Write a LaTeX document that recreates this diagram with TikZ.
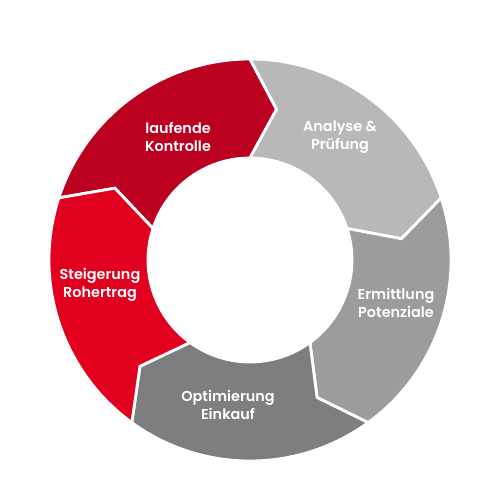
\documentclass[tikz,border=0pt]{standalone}
\usepackage{fontspec}
\setmainfont{Poppins}[BoldFont={Poppins SemiBold}]
\usepackage{xcolor}
\definecolor{CycleDarkRed}{HTML}{BC0020}
\definecolor{CycleRed}{HTML}{E2001F}
\definecolor{CycleLightGray}{HTML}{B8B8B8}
\definecolor{CycleGray}{HTML}{9B9C9E}
\definecolor{CycleDarkGray}{HTML}{7D7E80}
\tikzset{
    segment/.style={
        fill=#1,
        draw=white,
        line width=1.6pt,
        line join=miter
    },
    segment/.default=CycleGray,
    steptext/.style={
        text=white,
        font=\fontsize{8.2}{10.2}\selectfont\bfseries,
        align=center,
        inner sep=0pt
    }
}

\begin{document}
\begin{tikzpicture}
        \useasboundingbox (-5,-4.8) rectangle (5,5.2);

        % Ring segments (clockwise, each 72 degrees)
        \path[segment=CycleDarkRed] (162:4.02) arc[start angle=162, end angle=90, radius=4.02]
            -- (80:3.06) -- (90:2.04) arc[start angle=90, end angle=162, radius=2.04]
            -- (152:3.06) -- cycle;
        \path[segment=CycleLightGray] (90:4.02) arc[start angle=90, end angle=18, radius=4.02]
            -- (8:3.06) -- (18:2.04) arc[start angle=18, end angle=90, radius=2.04]
            -- (80:3.06) -- cycle;
        \path[segment=CycleGray] (18:4.02) arc[start angle=18, end angle=-54, radius=4.02]
            -- (-64:3.06) -- (-54:2.04) arc[start angle=-54, end angle=18, radius=2.04]
            -- (8:3.06) -- cycle;
        \path[segment=CycleDarkGray] (-54:4.02) arc[start angle=-54, end angle=-126, radius=4.02]
            -- (-136:3.06) -- (-126:2.04) arc[start angle=-126, end angle=-54, radius=2.04]
            -- (-64:3.06) -- cycle;
        \path[segment=CycleRed] (-126:4.02) arc[start angle=-126, end angle=-198, radius=4.02]
            -- (152:3.06) -- (-198:2.04) arc[start angle=-198, end angle=-126, radius=2.04]
            -- (-136:3.06) -- cycle;

        % Step labels
        \node[steptext] (kontrolle) at (-1.44,2.46) {laufende\\Kontrolle};
        \node[steptext] (analyse) at (1.8,2.46) {Analyse \&\\Prüfung};
        \node[steptext] (potenziale) at (2.92,-0.86) {Ermittlung\\Potenziale};
        \node[steptext] (einkauf) at (-0.44,-2.9) {Optimierung\\Einkauf};
        \node[steptext] (rohertrag) at (-3.0,-0.5) {Steigerung\\Rohertrag};
    \end{tikzpicture}
\end{document}
